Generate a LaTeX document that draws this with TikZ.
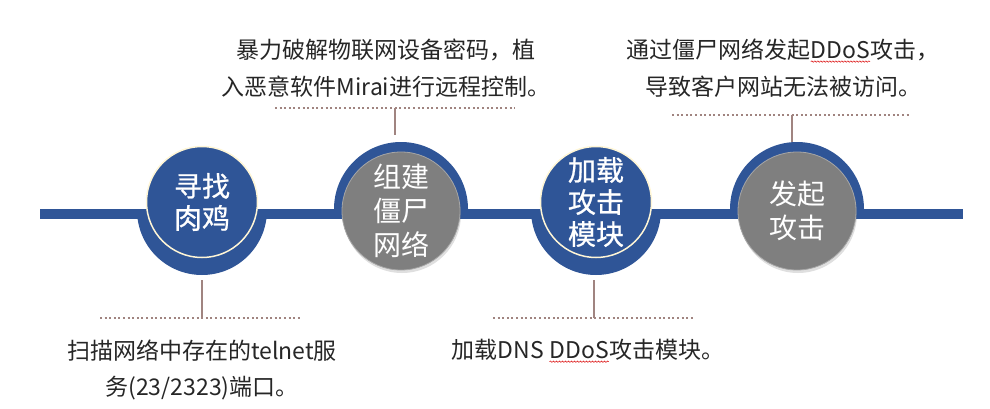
\documentclass[tikz,border=0pt]{standalone}
\usepackage{fontspec}
\setmainfont{Noto Sans CJK SC}
\newfontfamily\discfont[FakeBold=0.8]{Noto Sans CJK SC}
\usetikzlibrary{positioning, shadows, decorations.pathmorphing}
\definecolor{bandblue}{RGB}{47, 85, 151}
\definecolor{stepgray}{RGB}{127, 127, 127}
\definecolor{rimcream}{RGB}{255, 246, 214}
\definecolor{leadbrown}{RGB}{160, 132, 128}
\definecolor{notetext}{RGB}{38, 38, 38}
% blue step: ring below the band
\newcommand{\bluestep}[3]{
\fill[bandblue] (#2-65,198) arc (180:360:65) -- cycle;
\node[bluedisc] (#1) at (#2,206) {#3};
}
% gray step: ring above the band
\newcommand{\graystep}[3]{
\fill[bandblue] (#2-67,199) arc (180:0:67) -- cycle;
\node[graydisc] (#1) at (#2,197) {#3};
}
\newcommand{\squig}[1]{\tikz[baseline=(w.base)]{\node[inner sep=0pt, outer sep=0pt] (w) {#1};
\draw[red!85!black, line width=0.5pt, decorate, decoration={snake, amplitude=0.7pt, segment length=3pt}] ([yshift=-3pt]w.base west) -- ([yshift=-3pt]w.base east);}}

\begin{document}
\begin{tikzpicture}[x=1pt, y=1pt,
    bluedisc/.style={circle, fill=bandblue, draw=rimcream, line width=1.5pt, minimum size=111pt,
        inner sep=0pt, text=white, align=center, font=\fontsize{28}{32}\discfont},
    graydisc/.style={circle, fill=stepgray, draw=gray!70, line width=0.8pt, minimum size=118pt,
        inner sep=0pt, text=white, align=center, font=\fontsize{28}{34}\selectfont,
        drop shadow={opacity=0.25, shadow xshift=1pt, shadow yshift=-3pt}},
    note/.style={text=notetext, align=center, inner sep=0pt, font=\fontsize{23}{36.5}\selectfont},
    stem/.style={leadbrown, line width=1.6pt},
    leader/.style={leadbrown, line width=2pt, dash pattern=on 2pt off 2.6pt}]
    \useasboundingbox (0,0) rectangle (990,408);
    % the time line
    \fill[bandblue] (40,189) rectangle (963,199);
    \bluestep{s1}{202}{寻找\\肉鸡}
    \graystep{s2}{401}{组建\\僵尸\\网络}
    \bluestep{s3}{596}{加载\\攻击\\模块}
    \graystep{s4}{797}{发起\\攻击}
    % notes above
    \node[note] (n2) at (386,340) {暴力破解物联网设备密码，植\\入恶意软件Mirai进行远程控制。};
    \node[note] (n4) at (783,340) {通过僵尸网络发起\squig{DDoS}攻击，\\导致客户网站无法被访问。};
    \coordinate (a2) at (395,300);
    \coordinate (b2) at (395,273);
    \coordinate (a4) at (792,293);
    \coordinate (b4) at (792,266);
    \draw[leader] (275,300) -- (515,300);
    \draw[leader] (672,293) -- (910,293);
    \draw[stem] (a2) -- (b2);
    \draw[stem] (a4) -- (b4);
    % notes below
    \node[note] (n1) at (202,38) {扫描网络中存在的telnet服\\务(23/2323)端口。};
    \node[note] (n3) at (588,57) {加载DNS \squig{DDoS}攻击模块。};
    \coordinate (a1) at (202,90);
    \coordinate (b1) at (202,128);
    \coordinate (a3) at (594,90);
    \coordinate (b3) at (594,128);
    \draw[leader] (100,90) -- (302,90);
    \draw[leader] (493,90) -- (695,90);
    \draw[stem] (a1) -- (b1);
    \draw[stem] (a3) -- (b3);
\end{tikzpicture}
\end{document}
